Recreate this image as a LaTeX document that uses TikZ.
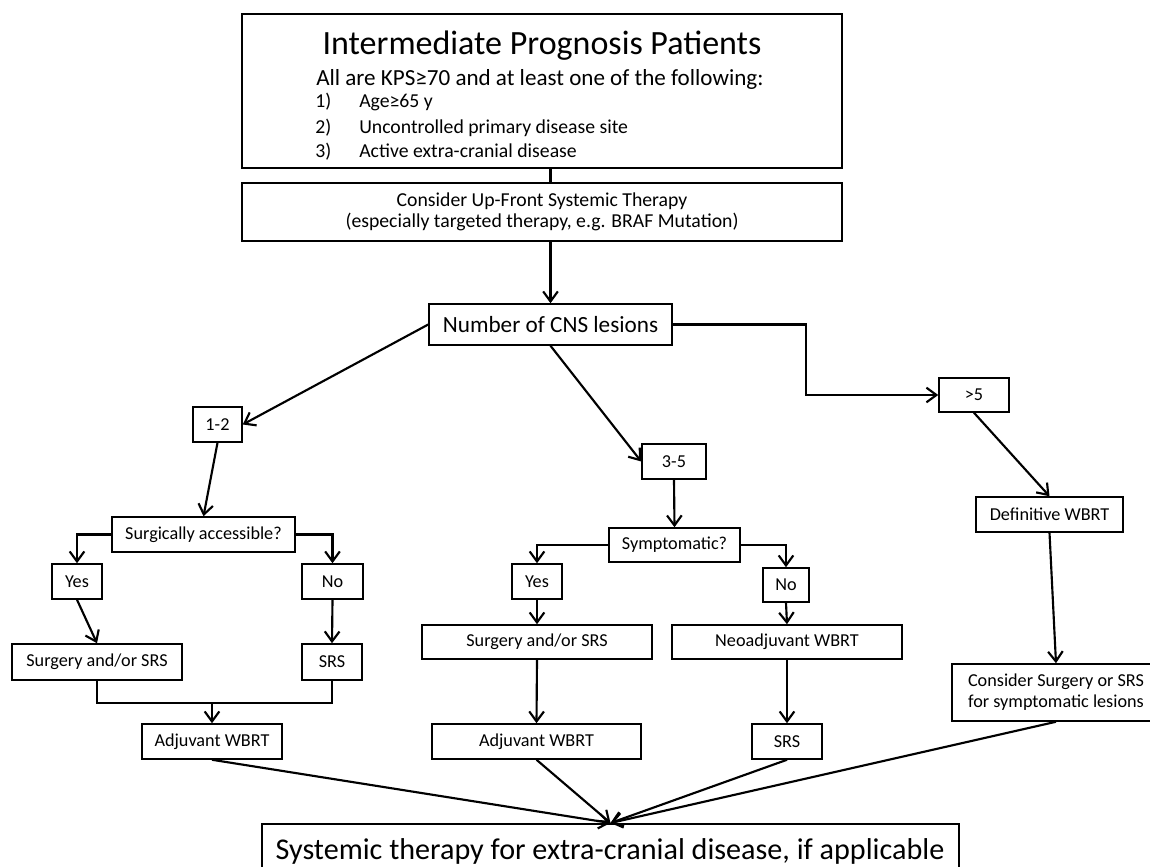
\documentclass[tikz,border=0pt]{standalone}
\usepackage{fontspec}
\setmainfont{Carlito}
\usetikzlibrary{arrows.meta,calc}
\tikzset{
  boxst/.style={draw=black, line width=1.15pt, inner sep=0pt, align=center,
    font=\fontsize{13.65}{15.8}\selectfont},
  conn/.style={line width=1.6pt, black},
  arr/.style={conn, -{Straight Barb[length=7.5pt,width=11pt,line width=1.6pt]}},
  txt/.style={inner sep=0pt},
}
\newcommand\bx[7][]{\node[boxst,#1, minimum width={(#5-#3)*0.75pt}, minimum height={(#6-#4)*0.75pt}] (#2) at ({(#3+#5)/2},{(#4+#6)/2}) {#7};}
\begin{document}
\begin{tikzpicture}[x=0.75pt,y=-0.75pt]
\useasboundingbox (0,0) rectangle (1150,867);
\clip (0,0) rectangle (1150,867);
% boxes
\bx[line width=1.5pt]{top}{242}{14}{842}{168}{}
\node[txt, anchor=base, font=\fontsize{25.5}{30}\selectfont] (title) at (542,55) {Intermediate Prognosis Patients};
\node[txt, anchor=base west, font=\fontsize{17.3}{20}\selectfont] (sub) at (316,85) {All are KPS≥70 and at least one of the following:};
\node[txt, anchor=base west, font=\fontsize{14.8}{18}\selectfont] (l1) at (315,108) {1)};
\node[txt, anchor=base west, font=\fontsize{14.8}{18}\selectfont] (i1) at (359,108) {Age≥65 y};
\node[txt, anchor=base west, font=\fontsize{14.8}{18}\selectfont] (l2) at (315,133) {2)};
\node[txt, anchor=base west, font=\fontsize{14.8}{18}\selectfont] (i2) at (359,133) {Uncontrolled primary disease site};
\node[txt, anchor=base west, font=\fontsize{14.8}{18}\selectfont] (l3) at (315,157) {3)};
\node[txt, anchor=base west, font=\fontsize{14.8}{18}\selectfont] (i3) at (359,157) {Active extra-cranial disease};
\bx[line width=1.5pt, font=\fontsize{14.8}{16}\selectfont]{sec}{242}{183}{842}{241}{Consider Up-Front Systemic Therapy\\(especially targeted therapy, e.g. BRAF Mutation)}
\bx[font=\fontsize{17.4}{20}\selectfont]{num}{429}{304}{672}{345}{Number of CNS lesions}
\bx{n12}{193}{407}{242}{442}{1-2}
\bx{n35}{642}{444}{706}{479}{3-5}
\bx{gt5}{939}{378}{1009}{412}{>5}
\bx{surgq}{112}{517}{295}{552}{Surgically accessible?}
\bx{yesL}{52}{564}{102}{599}{Yes}
\bx{noL}{302}{564}{363}{599}{No}
\bx{surgL}{12}{644}{182}{680}{Surgery and/or SRS}
\bx{srsL}{302}{644}{362}{680}{SRS}
\bx{sym}{609}{528}{740}{562}{Symptomatic?}
\bx{yesM}{512}{564}{562}{599}{Yes}
\bx{noM}{763}{568}{809}{602}{No}
\bx{surgM}{422}{625}{652}{659}{Surgery and/or SRS}
\bx{neoM}{672}{625}{902}{659}{Neoadjuvant WBRT}
\bx{defW}{976}{497}{1123}{532}{Definitive WBRT}
\bx{consS}{952}{664}{1160}{721}{Consider Surgery or SRS\\for symptomatic lesions}
\bx{adjL}{142}{724}{282}{759}{Adjuvant WBRT}
\bx{adjM}{432}{724}{641}{759}{Adjuvant WBRT}
\bx{srsM}{752}{724}{822}{759}{SRS}
\bx[line width=1.5pt]{bot}{262}{824}{959}{885}{}
\node[txt, anchor=base, font=\fontsize{22.6}{26}\selectfont] (bottxt) at (610,859) {Systemic therapy for extra-cranial disease, if applicable};
% connectors
\draw[conn] (num.north |- top.south) -- (num.north |- sec.north);
\draw[arr] (num.north |- sec.south) -- (num.north);
\draw[arr] (num.west) -- (n12.east);
\draw[arr] (num.south) -- (n35.west);
\coordinate (k1) at (806,395);
\draw[arr] (num.east) -| (k1) -- (gt5.west);
\draw[arr] (n12.south) -- (surgq.north);
\draw[arr] (surgq.west) -| (yesL.north);
\draw[arr] (surgq.east) -| (noL.north);
\draw[arr] (yesL.south) -- (surgL.north);
\draw[arr] (noL.south) -- (srsL.north);
\draw[conn] (surgL.south) -- ++(0,22) -| (srsL.south);
\coordinate (j1) at (212,702);
\draw[arr] (j1) -- (adjL.north);
\draw[arr] (n35.south) -- (sym.north);
\draw[arr] (sym.west) -| (yesM.north);
\draw[arr] (sym.east) -| (noM.north);
\draw[arr] (yesM.south) -- (surgM.north);
\draw[arr] (noM.south) -- (neoM.north);
\draw[arr] (surgM.south) -- (adjM.north);
\draw[arr] (neoM.south) -- (srsM.north);
\draw[arr] (gt5.south) -- (defW.north);
\draw[arr] (defW.south) -- (consS.north);
\draw[arr] (adjL.south) -- (bot.north);
\draw[arr] (adjM.south) -- (bot.north);
\draw[arr] (srsM.south) -- (bot.north);
\draw[arr] (consS.south) -- (bot.north);
\end{tikzpicture}
\end{document}
